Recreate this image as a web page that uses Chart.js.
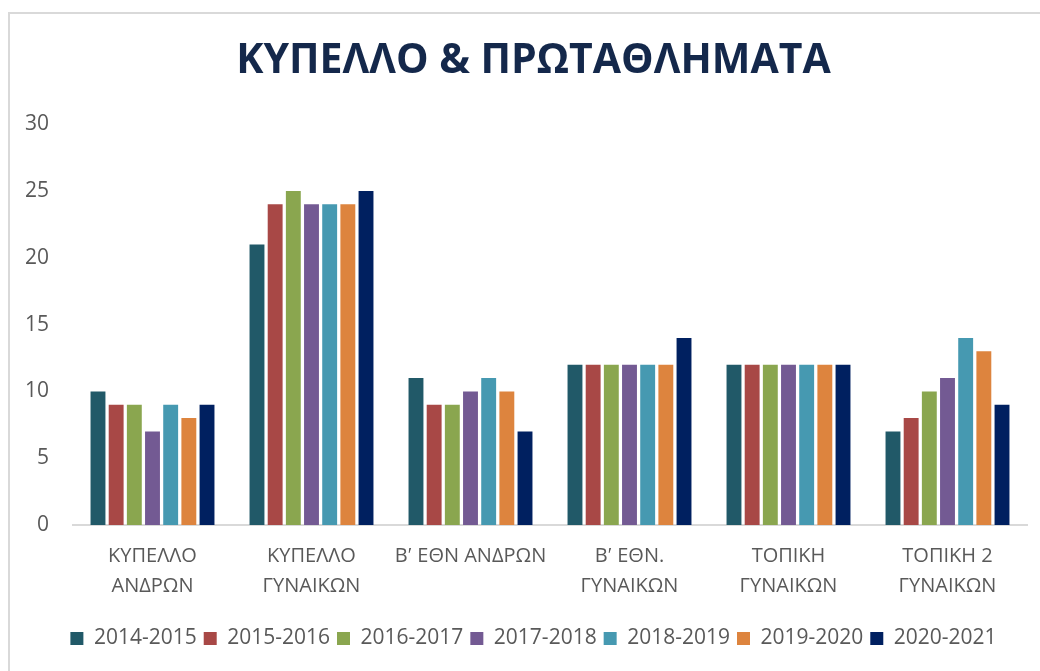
<!DOCTYPE html>
<html>
<head>
<meta charset="utf-8">
<script src="https://cdn.jsdelivr.net/npm/chart.js@4"></script>
<style>
  html, body { margin: 0; padding: 0; background: #fff; }
  #frame { position: absolute; left: 8px; top: 12px; width: 1040px; height: 670px;
           border-left: 2px solid #d9d9d9; border-top: 2px solid #d9d9d9; }
  #wrap { position: absolute; left: 0; top: 0; width: 1040px; height: 671px; }
</style>
</head>
<body>
<div id="frame"></div>
<div id="wrap"><canvas id="myChart"></canvas></div>
<script>
var categories = [
  ["ΚΥΠΕΛΛΟ", "ΑΝΔΡΩΝ"],
  ["ΚΥΠΕΛΛΟ", "ΓΥΝΑΙΚΩΝ"],
  "Βʹ ΕΘΝ ΑΝΔΡΩΝ",
  ["Βʹ ΕΘΝ.", "ΓΥΝΑΙΚΩΝ"],
  ["ΤΟΠΙΚΗ", "ΓΥΝΑΙΚΩΝ"],
  ["ΤΟΠΙΚΗ 2", "ΓΥΝΑΙΚΩΝ"]
];
var seasons = ["2014-2015", "2015-2016", "2016-2017", "2017-2018", "2018-2019", "2019-2020", "2020-2021"];
var s2014 = [10, 21, 11, 12, 12, 7];
var s2015 = [9, 24, 9, 12, 12, 8];
var s2016 = [9, 25, 9, 12, 12, 10];
var s2017 = [7, 24, 10, 12, 12, 11];
var s2018 = [9, 24, 11, 12, 12, 14];
var s2019 = [8, 24, 10, 12, 12, 13];
var s2020 = [9, 25, 7, 14, 12, 9];
var yTicks = [0, 5, 10, 15, 20, 25, 30];

var values = [s2014, s2015, s2016, s2017, s2018, s2019, s2020];
var colors = ["#215968", "#A84846", "#8AA64F", "#735A93", "#4699B1", "#DD843E", "#002060"];

// title and legend sit a little right of the canvas centre in the original
var nudge = {
  id: "nudge",
  afterLayout: function (chart) {
    [chart.legend, chart.titleBlock].forEach(function (box) {
      if (box) { box.left += 10; box.right += 10; }
    });
  },
};

var ctx = document.getElementById("myChart").getContext("2d");
var myChart = new Chart(ctx, {
  type: "bar",
  data: {
    labels: categories,
    datasets: seasons.map(function (name, i) {
      return {
        label: name,
        data: values[i],
        backgroundColor: colors[i],
        borderWidth: 0,
        barPercentage: 0.82,
        categoryPercentage: 0.8,
      };
    }),
  },
  plugins: [nudge],
  options: {
    responsive: true,
    maintainAspectRatio: false,
    animation: false,
    layout: { padding: { left: 20, right: 13, top: 0, bottom: 12 } },
    scales: {
      x: {
        grid: { display: false, drawTicks: false },
        border: { display: true, color: "#d9d9d9", width: 2 },
        afterFit: function (scale) { scale.height = 96; },
        ticks: {
          color: "#595959",
          font: { family: "Open Sans", size: 20, lineHeight: 1.5 },
          padding: 16,
          maxRotation: 0,
          autoSkip: false,
        },
      },
      y: {
        min: 0,
        max: 30,
        afterBuildTicks: function (scale) {
          scale.ticks = yTicks.map(function (v) { return { value: v }; });
        },
        afterFit: function (scale) { scale.width = 53; },
        grid: { display: false, drawTicks: false },
        border: { display: false },
        ticks: {
          color: "#595959",
          font: { family: "Open Sans", size: 21 },
          padding: 24,
        },
      },
    },
    plugins: {
      title: {
        display: true,
        text: "ΚΥΠΕΛΛΟ & ΠΡΩΤΑΘΛΗΜΑΤΑ",
        color: "#14284B",
        font: { family: "Open Sans", size: 41, weight: "bold" },
        padding: { top: 37, bottom: 38 },
      },
      legend: {
        display: true,
        position: "bottom",
        labels: {
          color: "#595959",
          font: { family: "Open Sans", size: 21 },
          boxWidth: 13,
          boxHeight: 13,
          padding: 7,
        },
      },
      tooltip: { enabled: false },
    },
  },
});
</script>
</body>
</html>
